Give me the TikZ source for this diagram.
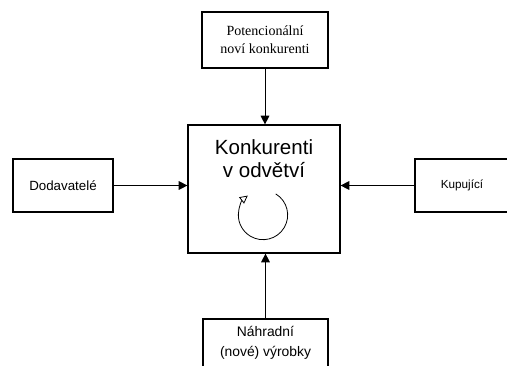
\documentclass[tikz,border=0pt]{standalone}
\usepackage{fontspec}
\setmainfont{Liberation Sans}
\newfontfamily\serifpart{Liberation Serif}
\usetikzlibrary{arrows.meta}
\tikzset{
  box/.style={draw=black, line width=0.9pt, rectangle, inner sep=0pt, align=center},
  arr/.style={line width=0.75pt, -{Triangle[length=6.5pt,width=6.5pt]}},
}
\begin{document}
\begin{tikzpicture}[x=0.75pt,y=-0.75pt]
\useasboundingbox (0,0) rectangle (507,365);
\clip (0,0) rectangle (507,365);
\node[box, minimum width=94.5pt, minimum height=42pt, font=\serifpart\fontsize{10.5}{13.5}\selectfont] (top) at (265,40) {Potencionální\\noví konkurenti};
\node[box, minimum width=114pt, minimum height=96pt] (main) at (264,189) {};
\node[align=center, font=\fontsize{15.4}{17.3}\selectfont, inner sep=0pt] (mainlabel) at (264,159) {Konkurenti\\v odvětví};
\node[box, minimum width=75pt, minimum height=39.75pt, font=\fontsize{10}{12}\selectfont] (left) at (63,185.5) {Dodavatelé};
\node[box, minimum width=70.5pt, minimum height=39.75pt, font=\fontsize{8.8}{11}\selectfont] (right) at (462,185.5) {Kupující};
\node[box, minimum width=93.75pt, minimum height=36pt, font=\fontsize{10.4}{15}\selectfont] (bottom) at (265.5,343) {Náhradní\\(nové) výrobky};
\draw[arr] (top.south) -- (top.south |- main.north);
\draw[arr] (left.east) -- (left.east -| main.west);
\draw[arr] (right.west) -- (right.west -| main.east);
\draw[arr] (bottom.north) -- (bottom.north |- main.south);
\coordinate (cyc) at (263,215);
\draw[line width=0.6pt, -{Triangle[open,length=6pt,width=6pt]}] ([shift={(59:18.5pt)}]cyc) arc[start angle=59, end angle=-232, radius=18.5pt];
\end{tikzpicture}
\end{document}
